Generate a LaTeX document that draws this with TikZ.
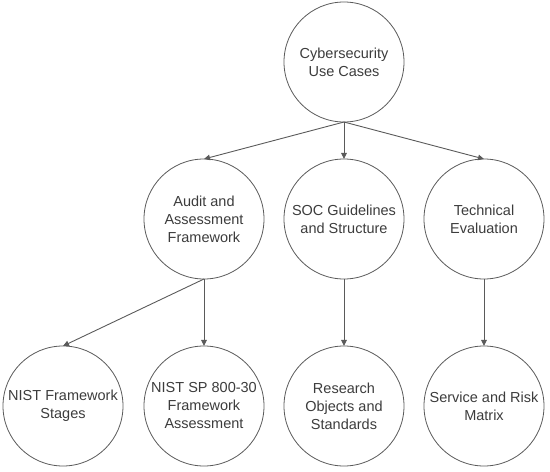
\documentclass[tikz,border=0pt]{standalone}
\usepackage{fontspec}
\setmainfont{Liberation Sans}
\usepackage{xcolor}
\usepackage{tikz}
\usetikzlibrary{arrows.meta}
\definecolor{edgegray}{HTML}{5A5A5A}
\definecolor{textgray}{HTML}{3C3C3C}
\tikzset{
  topic/.style={draw=edgegray, circle, line width=0.8pt, minimum size=120pt, inner sep=0pt, outer sep=0pt, align=center, text=textgray},
  arrow/.style={-{Triangle[length=6pt,width=5.5pt]}, line width=0.9pt, draw=edgegray},
  every node/.style={font=\fontsize{14.5}{18}\selectfont}
}

\begin{document}
\begin{tikzpicture}[x=1pt,y=1pt]
    \useasboundingbox (0,0) rectangle (550,472);
    % root
    \node[topic] (usecases) at (344,410) {Cybersecurity\\Use Cases};
    % second level
    \node[topic] (audit) at (204,253) {Audit and\\Assessment\\Framework};
    \node[topic] (soc) at (344,253) {SOC Guidelines\\and Structure};
    \node[topic] (techeval) at (484,253) {Technical\\Evaluation};
    % leaves
    \node[topic] (nistfw) at (63,66) {NIST Framework\\Stages};
    \node[topic] (nistsp) at (204,66) {NIST SP 800-30\\Framework\\Assessment};
    \node[topic] (research) at (344,66) {Research\\Objects and\\Standards};
    \node[topic] (servrisk) at (484,66) {Service and Risk\\Matrix};
    \draw[arrow] (usecases.south) -- (audit.north);
    \draw[arrow] (usecases.south) -- (soc.north);
    \draw[arrow] (usecases.south) -- (techeval.north);
    \draw[arrow] (audit.south) -- (nistfw.north);
    \draw[arrow] (audit.south) -- (nistsp.north);
    \draw[arrow] (soc.south) -- (research.north);
    \draw[arrow] (techeval.south) -- (servrisk.north);
\end{tikzpicture}
\end{document}
